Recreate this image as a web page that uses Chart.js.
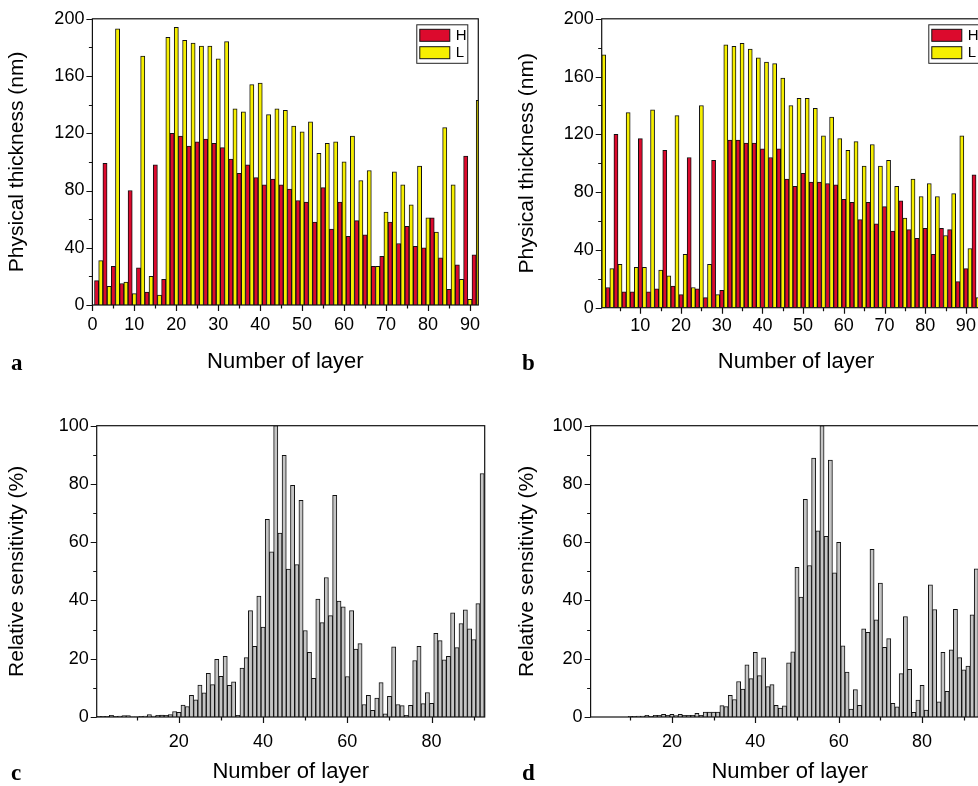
<!DOCTYPE html>
<html>
<head>
<meta charset="utf-8">
<script src="https://cdn.jsdelivr.net/npm/chart.js@4.4.1/dist/chart.umd.min.js"></script>
<style>
  html, body { margin: 0; padding: 0; background: #fff; }
  body { position: relative; width: 978px; height: 786px; overflow: hidden; }
  canvas { position: absolute; }
  .tag { position: absolute; font: bold 23px 'Liberation Serif', 'Times New Roman', serif; color: #000; }
</style>
</head>
<body>
<canvas id="chartA"></canvas>
<canvas id="chartB"></canvas>
<canvas id="chartC"></canvas>
<canvas id="chartD"></canvas>
<div class="tag" style="left:11px; top:350px;">a</div>
<div class="tag" style="left:522px; top:350px;">b</div>
<div class="tag" style="left:11px; top:760px;">c</div>
<div class="tag" style="left:522px; top:760px;">d</div>
<script>
const FONT = "'Liberation Sans', Arial, sans-serif";
const RED = '#dc0a2d';
const YELLOW = '#f6ef00';
const GRAY = '#c4c4c4';

// design a: H layers sit on odd numbers (1..91), L layers on even numbers (2..92)
const thickA_H = [17, 99, 27, 15, 80, 26, 9, 98, 18, 120, 118, 111, 114, 116, 113, 110, 102, 92, 98, 89,
  84, 88, 84, 81, 73, 72, 58, 82, 53, 72, 48, 59, 49, 27, 34, 58, 43, 55, 41, 40, 61, 33, 11, 28, 104, 35];
const thickA_L = [31, 13, 193, 16, 8, 174, 20, 7, 187, 194, 185, 183, 181, 181, 172, 184, 137, 135, 154, 155,
  133, 137, 136, 125, 121, 128, 106, 113, 114, 100, 118, 87, 94, 27, 65, 93, 84, 70, 97, 61, 51, 124, 84, 18, 4, 143];

// design b: L layers on odd numbers (1..93), H layers on even numbers (2..92)
const thickB_L = [175, 27, 30, 135, 28, 28, 137, 26, 22, 133, 37, 14, 140, 30, 9, 182, 181, 183, 179, 173,
  170, 169, 159, 140, 145, 145, 138, 119, 132, 117, 109, 115, 98, 113, 98, 102, 84, 62, 89, 77, 86, 77, 50, 79, 119, 41, 7];
const thickB_H = [14, 120, 11, 11, 117, 11, 13, 109, 15, 9, 104, 13, 7, 102, 12, 116, 116, 114, 114, 110,
  104, 110, 89, 84, 93, 87, 87, 86, 85, 75, 73, 61, 73, 58, 70, 53, 74, 54, 48, 55, 37, 55, 54, 18, 27, 92];

// relative sensitivity (%) of every layer, starting at layer 1
const sensC = [0.2, 0.2, 0.2, 0.6, 0.2, 0.3, 0.5, 0.5, 0.1, 0.1, 0.2, 0.3, 0.8, 0.3, 0.6, 0.7, 0.6, 0.8, 1.9, 1.6,
  4.1, 3.6, 7.4, 5.9, 11, 8.3, 15, 11.1, 19.8, 14, 20.8, 10.9, 12.1, 0.6, 16.8, 20.4, 36.5, 24.3, 41.5, 30.9,
  67.9, 56.7, 100, 63.1, 89.8, 50.8, 79.5, 52.3, 74.4, 29.7, 22.2, 13.3, 40.5, 32.4, 47.9, 34.8, 76.1, 39.8, 37.8, 13.9,
  36.5, 23.3, 25.2, 4.3, 7.4, 2.3, 6.5, 11.8, 1.1, 7.1, 24.1, 4.3, 3.9, 0.6, 4, 19.4, 24.3, 4.6, 8.4, 4.7,
  28.7, 26.2, 19.6, 20.8, 35.8, 23.8, 32.1, 36.8, 30.3, 26.6, 38.9, 83.6];
const sensD = [0, 0, 0, 0, 0, 0, 0, 0, 0, 0.2, 0.2, 0.3, 0.3, 0.6, 0.2, 0.6, 0.6, 0.9, 0.6, 0.9,
  0.5, 0.9, 0.6, 0.6, 0.6, 1.3, 0.6, 1.7, 1.7, 1.7, 1.7, 3.9, 3.6, 7.4, 6, 12.2, 9.6, 17.9, 13.2, 22.2,
  14.2, 20.3, 10.4, 11.1, 4, 3.1, 3.8, 18.6, 22.4, 51.4, 41.2, 74.7, 52, 88.9, 63.9, 100, 62, 88.2, 49.5, 60,
  24.4, 15.4, 2.7, 9.4, 4, 30.3, 29.1, 57.6, 33.4, 46, 23.9, 26.9, 4.7, 3.5, 14.9, 34.5, 16.4, 1.6, 5.8, 10.9,
  2.4, 45.4, 36.9, 5.2, 22.2, 8.8, 23.1, 37, 20.4, 16.2, 17.5, 35.1, 50.9];

const X_TITLE = 'Number of layer';

function layerPoints(values, firstLayer, step) {
  return values.map((v, i) => ({ x: firstLayer + i * step, y: v }));
}

function barSet(label, data, color) {
  return {
    label,
    data,
    backgroundColor: color,
    borderColor: '#111',
    borderWidth: 1,
    borderSkipped: 'start',
    grouped: false,
    barPercentage: 1,
    categoryPercentage: 1,
    clip: 0,
  };
}

// box frame plus outward major/minor tick marks on the left and bottom axes
function framePlugin(marks) {
  return {
    id: 'frame',
    afterDatasetsDraw(chart) {
      const { ctx, chartArea: a, scales: { x, y } } = chart;
      ctx.save();
      ctx.strokeStyle = '#111';
      ctx.lineWidth = 1.2;
      ctx.strokeRect(a.left, a.top, a.right - a.left, a.bottom - a.top);
      ctx.beginPath();
      for (let v = Math.ceil(x.min / marks.xMinor) * marks.xMinor; v <= x.max; v += marks.xMinor) {
        const px = Math.round(x.getPixelForValue(v)) + 0.5;
        const len = v % marks.xMajor === 0 ? 6 : 3.5;
        ctx.moveTo(px, a.bottom);
        ctx.lineTo(px, a.bottom + len);
      }
      for (let v = Math.ceil(y.min / marks.yMinor) * marks.yMinor; v <= y.max; v += marks.yMinor) {
        const py = Math.round(y.getPixelForValue(v)) + 0.5;
        const len = v % marks.yMajor === 0 ? 6 : 3.5;
        ctx.moveTo(a.left, py);
        ctx.lineTo(a.left - len, py);
      }
      ctx.stroke();
      ctx.restore();
    },
  };
}

// small boxed legend in the upper right corner of the plot
function boxLegendPlugin() {
  return {
    id: 'boxLegend',
    afterDraw(chart) {
      const { ctx, chartArea: a } = chart;
      const sets = chart.data.datasets;
      const left = a.right - 62;
      const top = a.top + 5.5;
      ctx.save();
      ctx.fillStyle = '#fff';
      ctx.fillRect(left, top, 52, 39.5);
      ctx.strokeStyle = '#222';
      ctx.lineWidth = 1;
      ctx.strokeRect(left + 0.5, top + 0.5, 51, 38.5);
      ctx.font = '15px ' + FONT;
      ctx.textBaseline = 'middle';
      ['H', 'L'].forEach((name, i) => {
        const ds = sets.find((d) => d.label === name);
        const rowY = top + 5 + i * 17.4;
        ctx.fillStyle = ds.backgroundColor;
        ctx.fillRect(left + 3.5, rowY, 30, 12);
        ctx.strokeStyle = '#111';
        ctx.strokeRect(left + 3.5, rowY, 30, 12);
        ctx.fillStyle = '#000';
        ctx.fillText(name, left + 39.5, rowY + 6.5);
      });
      ctx.restore();
    },
  };
}

function makePanel(id, box, area, spec) {
  const canvas = document.getElementById(id);
  canvas.width = box.w;
  canvas.height = box.h;
  canvas.style.left = box.x + 'px';
  canvas.style.top = box.y + 'px';

  const xAxisH = 72;
  const yTitleLine = 21 * 1.2;
  const xTitleLine = 22 * 1.2;
  const yAxisW = area.l - box.x;
  const tickFont = { family: FONT, size: 18 };

  const plugins = [framePlugin(spec.marks)];
  if (spec.legend) plugins.push(boxLegendPlugin());

  return new Chart(canvas, {
    type: 'bar',
    data: { datasets: spec.datasets },
    options: {
      responsive: false,
      animation: false,
      events: [],
      layout: {
        padding: {
          left: 0,
          top: area.t - box.y,
          right: box.x + box.w - area.r,
          bottom: box.y + box.h - area.b - xAxisH,
        },
      },
      plugins: { legend: { display: false }, tooltip: { enabled: false } },
      scales: {
        x: {
          type: 'linear',
          min: spec.xMin,
          max: spec.xMax,
          offset: false,
          grid: { display: false, drawTicks: false },
          border: { display: false },
          ticks: {
            stepSize: spec.marks.xMajor,
            includeBounds: false,
            autoSkip: false,
            maxRotation: 0,
            padding: spec.xTickPad,
            color: '#000',
            font: tickFont,
          },
          title: {
            display: true,
            text: X_TITLE,
            color: '#000',
            font: { family: FONT, size: 22 },
            padding: { top: 0, bottom: area.b + xAxisH - xTitleLine / 2 - spec.xTitleY },
          },
          afterFit(scale) { scale.height = xAxisH; },
        },
        y: {
          type: 'linear',
          min: 0,
          max: spec.yMax,
          grid: { display: false, drawTicks: false },
          border: { display: false },
          ticks: {
            stepSize: spec.marks.yMajor,
            padding: 8,
            color: '#000',
            font: tickFont,
          },
          title: {
            display: true,
            text: spec.yTitle,
            color: '#000',
            font: { family: FONT, size: 21 },
            padding: { top: spec.yTitleX - box.x - yTitleLine / 2, bottom: 0 },
          },
          afterFit(scale) { scale.width = yAxisW; },
        },
      },
    },
    plugins,
  });
}

const thicknessMarks = { xMinor: 5, xMajor: 10, yMinor: 20, yMajor: 40 };
const sensitivityMarks = { xMinor: 10, xMajor: 20, yMinor: 10, yMajor: 20 };

makePanel('chartA', { x: 0, y: 0, w: 489, h: 392 }, { l: 92.4, t: 16.7, r: 485, b: 305 }, {
  datasets: [
    barSet('H', layerPoints(thickA_H, 1, 2), RED),
    barSet('L', layerPoints(thickA_L, 2, 2), YELLOW),
  ],
  xMin: 0, xMax: 92, yMax: 200,
  marks: thicknessMarks,
  legend: true,
  yTitle: 'Physical thickness (nm)',
  yTitleX: 17, xTitleY: 362, xTickPad: 9,
});

makePanel('chartB', { x: 496, y: 0, w: 510, h: 392 }, { l: 601.7, t: 18.3, r: 990.3, b: 307.7 }, {
  datasets: [
    barSet('H', layerPoints(thickB_H, 2, 2), RED),
    barSet('L', layerPoints(thickB_L, 1, 2), YELLOW),
  ],
  xMin: 0.5, xMax: 96, yMax: 200,
  marks: thicknessMarks,
  legend: true,
  yTitle: 'Physical thickness (nm)',
  yTitleX: 527, xTitleY: 362, xTickPad: 8,
});

makePanel('chartC', { x: 0, y: 400, w: 489, h: 392 }, { l: 96.7, t: 425.7, r: 484.7, b: 717 }, {
  datasets: [barSet('sensitivity', layerPoints(sensC, 1, 1), GRAY)],
  xMin: 0.5, xMax: 92.6, yMax: 100,
  marks: sensitivityMarks,
  yTitle: 'Relative sensitivity (%)',
  yTitleX: 17, xTitleY: 772, xTickPad: 14,
});

makePanel('chartD', { x: 496, y: 400, w: 510, h: 392 }, { l: 590.6, t: 425.7, r: 988.8, b: 717 }, {
  datasets: [barSet('sensitivity', layerPoints(sensD, 1, 1), GRAY)],
  xMin: 0.5, xMax: 96, yMax: 100,
  marks: sensitivityMarks,
  yTitle: 'Relative sensitivity (%)',
  yTitleX: 527, xTitleY: 772, xTickPad: 14,
});
</script>
</body>
</html>
